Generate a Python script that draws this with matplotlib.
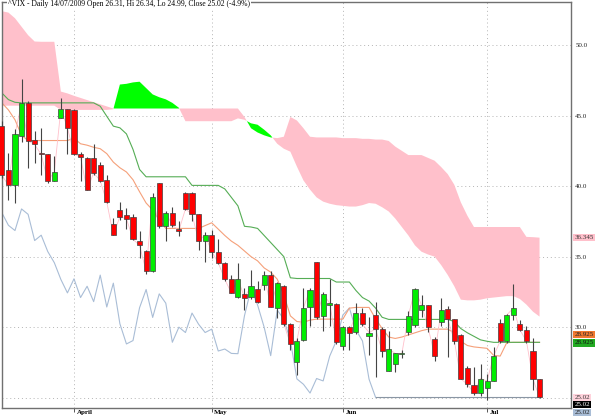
import numpy as np
import matplotlib.pyplot as plt

# ^VIX daily, 17 Mar 2009 .. 14 Jul 2009 (trading-day index on x)
opens = [44.25, 41.13, 40.05, 43.58, 45.9, 43.25, 42.36, 42.26, 40.38, 44.83,
         45.47, 45.42, 42.24, 42.0, 41.96, 41.49, 40.4, 37.29, 38.3, 37.97,
         37.83, 36.08, 35.4, 33.96, 40.24, 37.17, 38.11, 36.98, 39.52, 39.52,
         38.0, 36.14, 36.52, 35.36, 34.57, 33.38, 32.14, 32.38, 32.12, 32.71,
         33.0, 33.69, 31.38, 32.9, 30.24, 27.5, 29.07, 31.4, 34.6, 30.81,
         31.6, 31.64, 28.69, 30.0, 29.64, 31.0, 29.38, 30.86, 29.86, 26.88,
         27.38, 28.1, 29.69, 30.12, 31.21, 31.57, 29.19, 30.4, 31.31, 30.57,
         29.45, 27.1, 25.93, 25.33, 25.71, 26.21, 30.33, 29.02, 30.86, 30.21,
         29.81, 28.33, 26.31]
highs = [44.6, 42.36, 44.06, 47.6, 46.0, 43.9, 44.1, 42.3, 42.1, 46.25,
         45.5, 45.5, 42.4, 42.05, 43.0, 41.7, 40.8, 37.76, 38.87, 38.47,
         38.0, 36.8, 35.5, 39.53, 40.25, 38.2, 38.5, 37.5, 39.6, 39.6,
         38.0, 36.76, 36.9, 36.24, 34.6, 33.69, 34.57, 32.76, 34.05, 33.26,
         33.95, 33.98, 33.2, 33.0, 30.3, 29.2, 32.79, 32.79, 34.65, 32.5,
         33.38, 31.7, 30.1, 30.05, 31.71, 31.36, 30.71, 31.79, 30.0, 29.74,
         28.2, 28.4, 31.17, 32.75, 32.29, 31.6, 29.3, 32.07, 31.48, 30.6,
         29.5, 27.24, 27.19, 27.36, 26.67, 28.57, 30.6, 30.9, 33.07, 30.52,
         30.05, 29.21, 26.34]
lows = [40.6, 39.0, 38.82, 43.1, 41.3, 41.65, 40.8, 40.2, 40.35, 44.8,
        42.3, 42.2, 40.35, 39.7, 40.8, 40.3, 38.8, 36.5, 37.6, 36.98,
        36.2, 34.93, 33.8, 33.9, 37.05, 36.1, 37.1, 36.47, 38.3, 37.55,
        35.45, 34.62, 34.93, 34.5, 33.3, 32.4, 32.1, 31.24, 32.0, 31.7,
        32.67, 31.4, 30.67, 30.1, 28.38, 26.6, 29.0, 30.1, 30.6, 29.7,
        30.05, 28.8, 28.4, 28.38, 29.5, 30.1, 28.02, 26.48, 27.9, 26.88,
        26.83, 27.8, 29.45, 30.0, 30.71, 29.69, 27.62, 30.05, 27.86, 28.81,
        26.3, 25.76, 25.17, 25.1, 24.81, 26.2, 28.9, 28.9, 30.52, 29.7,
        28.86, 25.52, 24.99]
closes = [40.78, 40.05, 43.68, 45.9, 43.2, 42.95, 42.24, 40.38, 41.0, 45.47,
          44.13, 42.29, 42.03, 39.72, 40.94, 40.38, 38.87, 36.53, 37.83, 37.69,
          36.23, 35.8, 33.96, 39.2, 37.17, 38.11, 37.22, 36.85, 38.38, 38.0,
          36.14, 36.52, 35.36, 34.57, 33.38, 32.43, 33.43, 32.1, 32.9, 31.81,
          33.69, 31.43, 33.12, 30.24, 28.81, 29.05, 31.38, 32.67, 30.69, 32.36,
          31.7, 28.93, 30.0, 29.62, 31.0, 30.21, 29.62, 29.86, 28.31, 28.45,
          28.14, 28.12, 30.81, 32.71, 31.57, 30.0, 27.98, 31.21, 30.57, 29.05,
          26.33, 25.95, 25.33, 26.36, 26.19, 27.95, 29.02, 30.86, 31.36, 29.81,
          29.02, 26.31, 25.02]

# Ichimoku lines
tenkan = [45.9, 45.4, 44.7, 43.6, 43.23, 43.23, 43.23, 43.23, 43.23, 43.23,
          43.23, 43.4, 43.0, 42.9, 42.75, 42.65, 42.3, 41.7, 41.3, 41.0,
          40.45, 39.6, 38.8, 38.3, 37.6, 37.0, 37.0, 37.0, 37.0, 37.0,
          37.0, 37.2, 37.4, 36.95, 36.5, 36.1, 35.8, 35.4, 35.0, 34.7,
          34.2, 33.9, 33.4, 32.3, 30.8, 30.4, 30.35, 30.5, 30.57, 30.57,
          30.57, 30.57, 30.57, 31.35, 31.4, 31.4, 31.4, 30.6, 29.9, 29.3,
          29.2, 29.3, 29.45, 29.6, 29.75, 29.86, 29.86, 29.86, 29.86, 29.6,
          29.0, 28.7, 28.6, 28.55, 28.5, 28.0, 27.95, 28.9, 28.925, 28.925,
          28.925, 28.925, 28.925]
kijun = [46.6, 46.13, 45.94, 45.9, 45.9, 45.9, 45.9, 45.9, 45.9, 45.9,
         45.9, 45.9, 45.9, 45.9, 45.9, 45.66, 44.95, 44.25, 44.13, 43.7,
         42.6, 41.18, 40.66, 40.66, 40.66, 40.66, 40.66, 40.66, 40.66, 40.05,
         40.05, 40.05, 40.05, 40.05, 39.8, 39.2, 38.6, 37.15, 37.1, 37.0,
         36.5, 36.0, 35.5, 35.0, 33.5, 33.45, 33.45, 33.45, 33.45, 33.45,
         33.45, 33.2, 33.2, 33.2, 32.6, 32.1, 31.85, 31.35, 30.7, 30.55,
         30.55, 30.55, 30.55, 30.55, 30.55, 30.55, 30.55, 30.55, 30.55, 30.4,
         29.9, 29.6, 29.35, 29.1, 29.0, 28.925, 28.925, 28.925, 28.925, 28.925,
         28.925, 28.925, 28.925]
span_a = [45.7, 45.7, 45.7, 45.7, 45.7, 45.7, 45.7, 45.7, 45.7, 45.4,
          45.4, 45.4, 45.4, 45.4, 45.4, 45.4, 45.4, 45.45, 47.2, 47.25,
          47.35, 47.4, 46.95, 46.5, 46.3, 46.15, 45.9, 45.55, 44.6, 44.6,
          44.6, 44.6, 44.6, 44.6, 44.6, 44.6, 44.8, 44.7, 44.45, 44.35,
          44.0, 43.6, 43.0, 42.65, 42.44, 41.38, 40.4, 39.75, 39.2, 38.9,
          38.75, 38.65, 38.6, 38.55, 38.55, 38.65, 38.8, 38.75, 38.5, 38.2,
          37.7, 37.1, 36.5, 35.8, 35.35, 35.15, 35.0, 34.4, 33.7, 32.9,
          31.95, 31.9, 31.9, 31.95, 32.05, 32.1, 32.15, 32.2, 32.2, 32.0,
          31.6, 31.1, 30.75]
span_b = [52.4, 52.3, 51.9, 51.3, 50.7, 50.25, 50.23, 50.23, 50.23, 46.7,
          46.57, 46.4, 46.25, 46.1, 45.95, 45.8, 45.65, 45.5, 45.5, 45.5,
          45.5, 45.5, 45.5, 45.5, 45.5, 45.5, 45.5, 45.5, 45.5, 45.5,
          45.5, 45.5, 45.5, 45.5, 45.5, 45.5, 45.5, 44.9, 44.1, 43.8,
          43.6, 43.45, 43.4, 43.5, 44.9, 44.65, 44.1, 43.5, 43.45, 43.45,
          43.45, 43.45, 43.4, 43.4, 43.4, 43.35, 43.35, 43.3, 43.3, 43.2,
          42.8, 42.5, 42.2, 42.2, 42.2, 42.0, 41.8, 41.35, 40.85, 40.1,
          38.85, 37.9, 37.1, 37.1, 37.1, 37.1, 37.1, 37.1, 37.1, 37.1,
          36.4, 36.38, 36.345]

month_idx = [11, 32, 52, 74]
month_names = ["April", "May", "Jun", "Jul"]
price_ticks = [30, 35, 40, 45, 50]
lag = 25

title = "^VIX - Daily 14/07/2009 Open 26.31, Hi 26.34, Lo 24.99, Close 25.02 (-4.9%)"

o = np.array(opens); h = np.array(highs); l = np.array(lows); c = np.array(closes)
x = np.arange(len(c))
a = np.array(span_a); b = np.array(span_b)

fig = plt.figure(figsize=(6.0, 4.16), dpi=100)
ax = fig.add_axes([2/600, 1 - 408/416, 569/600, 406/416])
serif = ["Liberation Serif", "DejaVu Serif"]

# grid
grid_kw = dict(color="#b4b4b4", lw=0.7, linestyle=(0, (1, 3)), zorder=0)
for yv in [25] + price_ticks:
    ax.axhline(yv, **grid_kw)
for m in month_idx:
    ax.axvline(m, **grid_kw)

# cloud
ax.fill_between(x, a, b, where=a >= b, interpolate=True, color="#00ff00", lw=0, zorder=1)
ax.fill_between(x, a, b, where=a < b, interpolate=True, color="#ffc0cb", lw=0, zorder=1)

# lagging span and its tail
ax.plot(x[:len(c) - lag], c[lag:], color="#a9bdd6", lw=0.8, zorder=2)
ax.plot([len(c) - lag - 1, len(c) - 1], [c[-1], c[-1]], color="#8a96a4", lw=0.8, zorder=2)

ax.plot(x, tenkan, color="#f5a07a", lw=0.8, zorder=2)
ax.plot(x, kijun, color="#55ad55", lw=0.8, zorder=2)
ax.plot(x, c, color="#ffc0cb", lw=0.6, zorder=2)

# candles
up = c >= o
body_lo = np.minimum(o, c)
body_h = np.maximum(np.abs(c - o), 0.06)
ax.vlines(x, l, h, color="#444444", lw=0.8, zorder=3, clip_on=False)
ax.bar(x, body_h, bottom=body_lo, width=0.78,
       color=np.where(up, "#00ee00", "#ff0000"), edgecolor="#404040",
       linewidth=0.5, zorder=4, clip_on=False)

ax.set_xlim(0.02, 86.8)
ax.set_ylim(24.27, 53.05)

for s in ax.spines.values():
    s.set_color("#707070")
    s.set_linewidth(1.0)

ax.yaxis.tick_right()
ax.set_yticks(price_ticks)
ax.set_yticklabels([f"{t:.1f}" for t in price_ticks], fontsize=5, family=serif)
ax.tick_params(axis="y", length=0, pad=3, labelcolor="#222222")
ax.set_xticks(month_idx)
ax.set_xticklabels([])
ax.tick_params(axis="x", length=3, width=0.7, color="#555555")
for m, name in zip(month_idx, month_names):
    ax.text(m + 0.4, 24.1, name, fontsize=5, family=serif, fontweight="bold",
            ha="left", va="top", clip_on=False)

# last-value labels on the right
ytr = ax.get_yaxis_transform()
labels = [
    (36.345, "36.345", "#ffc0cb", "#333333"),
    (29.5, "28.925", "#f07830", "#222222"),
    (28.88, "28.925", "#22aa22", "#111111"),
    (25.0, "25.02", "#ffd3dc", "#333333"),
    (24.5, "25.02", "#000000", "#ffffff"),
    (23.95, "25.02", "#a9bdd6", "#222222"),
]
for yv, txt, bg, fg in labels:
    ax.text(1.006, yv, txt, transform=ytr, fontsize=5, family=serif, color=fg,
            ha="left", va="center", clip_on=False,
            bbox=dict(boxstyle="square,pad=0.15", fc=bg, ec="none"))

fig.text(8/600, 1 - 4/416, title, fontsize=5.5, family=serif, ha="left", va="center",
         bbox=dict(boxstyle="square,pad=0.1", fc="white", ec="none"))

fig.savefig("out.png", dpi=100)
